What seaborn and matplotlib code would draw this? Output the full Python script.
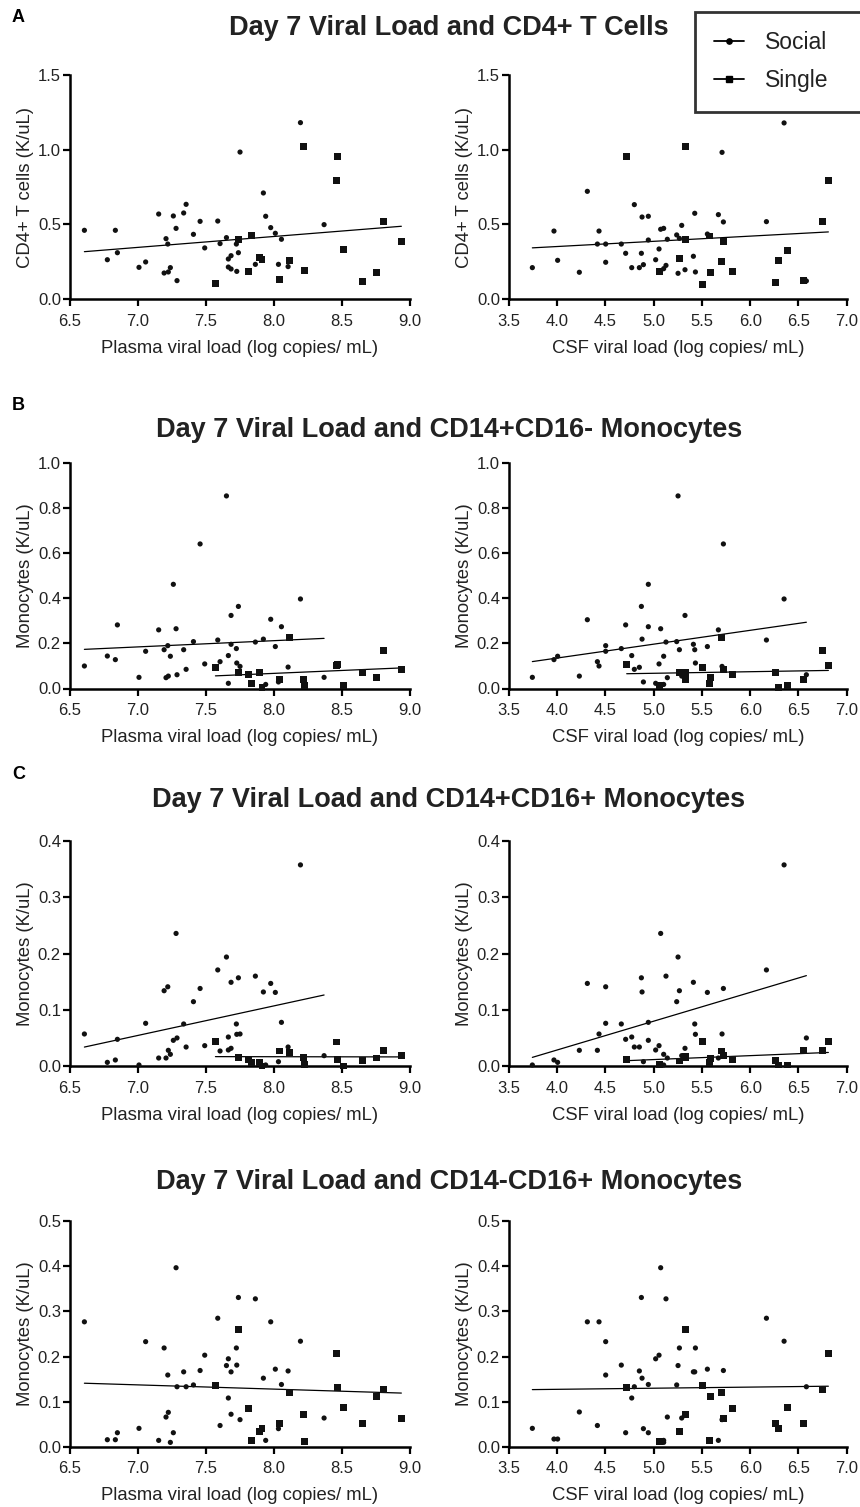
import matplotlib
matplotlib.use("Agg")
import matplotlib.pyplot as plt
from matplotlib.lines import Line2D
import numpy as np
import seaborn as sns

# x values shared by every row (same animals in each panel column)
plasma_social_x = [6.606, 6.775, 6.834, 6.849, 7.008, 7.057, 7.153, 7.193, 7.207, 7.22, 7.224,
                   7.239, 7.261, 7.281, 7.288, 7.337, 7.355, 7.409, 7.458, 7.492, 7.588, 7.605,
                   7.652, 7.666, 7.666, 7.686, 7.686, 7.725, 7.728, 7.74, 7.752, 7.865, 7.924,
                   7.941, 7.978, 8.012, 8.035, 8.057, 8.106, 8.197, 8.371]
plasma_single_x = [7.571, 7.74, 7.814, 7.836, 7.895, 7.914, 8.042, 8.116, 8.219, 8.226, 8.465,
                   8.472, 8.514, 8.656, 8.757, 8.811, 8.94]
csf_social_x = [3.742, 3.966, 4.004, 4.229, 4.312, 4.416, 4.433, 4.502, 4.502, 4.664, 4.709,
                4.772, 4.799, 4.851, 4.872, 4.879, 4.893, 4.944, 4.944, 5.02, 5.055, 5.072,
                5.103, 5.103, 5.127, 5.141, 5.238, 5.252, 5.266, 5.29, 5.324, 5.411, 5.425,
                5.432, 5.556, 5.67, 5.708, 5.722, 6.168, 6.351, 6.582]
csf_single_x = [4.72, 5.058, 5.266, 5.328, 5.331, 5.51, 5.575, 5.587, 5.701, 5.722, 5.815,
                6.261, 6.295, 6.385, 6.55, 6.748, 6.81]

# CD4+ T cells
cd4_plasma_social = [0.46, 0.263, 0.46, 0.31, 0.212, 0.248, 0.569, 0.174, 0.404, 0.368, 0.181,
                     0.21, 0.556, 0.473, 0.123, 0.576, 0.634, 0.433, 0.52, 0.342, 0.522, 0.371,
                     0.411, 0.268, 0.214, 0.29, 0.201, 0.368, 0.185, 0.31, 0.984, 0.232, 0.71,
                     0.554, 0.478, 0.44, 0.232, 0.4, 0.217, 1.181, 0.498]
cd4_plasma_single = [0.105, 0.4, 0.185, 0.424, 0.277, 0.266, 0.132, 0.259, 1.02, 0.192, 0.795,
                     0.955, 0.333, 0.118, 0.179, 0.518, 0.384]
cd4_csf_social = [0.21, 0.455, 0.259, 0.179, 0.721, 0.368, 0.455, 0.368, 0.246, 0.368, 0.306,
                  0.21, 0.632, 0.21, 0.306, 0.549, 0.23, 0.554, 0.395, 0.263, 0.335, 0.467,
                  0.473, 0.203, 0.225, 0.4, 0.429, 0.172, 0.406, 0.493, 0.196, 0.286, 0.574,
                  0.181, 0.435, 0.565, 0.982, 0.516, 0.518, 1.179, 0.121]
cd4_csf_single = [0.953, 0.185, 0.272, 1.02, 0.4, 0.098, 0.422, 0.179, 0.252, 0.386, 0.185,
                  0.112, 0.259, 0.326, 0.125, 0.518, 0.795]

# CD14+CD16- monocytes
mono_a_plasma_social = [0.0998, 0.144, 0.128, 0.282, 0.0495, 0.165, 0.26, 0.172, 0.048, 0.19,
                        0.055, 0.143, 0.462, 0.265, 0.061, 0.172, 0.085, 0.208, 0.641, 0.109,
                        0.215, 0.119, 0.854, 0.146, 0.023, 0.324, 0.196, 0.177, 0.113, 0.364,
                        0.098, 0.206, 0.219, 0.018, 0.307, 0.186, 0.029, 0.274, 0.095, 0.397,
                        0.0495]
mono_a_plasma_single = [0.094, 0.07, 0.063, 0.023, 0.072, 0.004, 0.041, 0.227, 0.041, 0.013,
                        0.1, 0.107, 0.013, 0.072, 0.0495, 0.169, 0.084]
mono_a_csf_social = [0.0495, 0.128, 0.143, 0.055, 0.305, 0.119, 0.0998, 0.19, 0.165, 0.177,
                     0.282, 0.146, 0.085, 0.094, 0.364, 0.219, 0.029, 0.462, 0.274, 0.023,
                     0.109, 0.265, 0.143, 0.018, 0.206, 0.048, 0.208, 0.854, 0.172, 0.055,
                     0.324, 0.196, 0.172, 0.113, 0.186, 0.26, 0.098, 0.641, 0.215, 0.397, 0.061]
mono_a_csf_single = [0.107, 0.013, 0.072, 0.072, 0.041, 0.094, 0.023, 0.0495, 0.227, 0.084,
                     0.063, 0.07, 0.004, 0.013, 0.041, 0.169, 0.1]

# CD14+CD16+ monocytes
mono_b_plasma_social = [0.057, 0.0065, 0.0107, 0.0475, 0.0018, 0.076, 0.0142, 0.134, 0.0142,
                        0.141, 0.0279, 0.0208, 0.0457, 0.236, 0.0499, 0.0748, 0.0338, 0.1145,
                        0.138, 0.0362, 0.171, 0.0267, 0.194, 0.0516, 0.0285, 0.149, 0.0315,
                        0.0748, 0.0564, 0.157, 0.057, 0.16, 0.1318, 0.0018, 0.147, 0.131,
                        0.0077, 0.0777, 0.0338, 0.358, 0.0184]
mono_b_plasma_single = [0.0439, 0.0154, 0.0119, 0.0065, 0.0065, 0.0, 0.0267, 0.0243, 0.0154,
                        0.003, 0.0427, 0.0119, 0.0, 0.0101, 0.0142, 0.0279, 0.019]
mono_b_csf_social = [0.0018, 0.0107, 0.0065, 0.0279, 0.147, 0.0279, 0.057, 0.076, 0.141, 0.0748,
                     0.0475, 0.0516, 0.0338, 0.0338, 0.157, 0.1318, 0.0077, 0.0457, 0.0777,
                     0.0285, 0.0362, 0.236, 0.0208, 0.0018, 0.16, 0.0142, 0.1145, 0.194, 0.134,
                     0.0184, 0.0315, 0.149, 0.0748, 0.0564, 0.131, 0.0142, 0.057, 0.138, 0.171,
                     0.358, 0.0499]
mono_b_csf_single = [0.0119, 0.003, 0.0089, 0.0154, 0.0166, 0.0439, 0.0065, 0.013, 0.0267,
                     0.019, 0.0119, 0.0101, 0.0018, 0.0018, 0.0279, 0.0279, 0.0439]

# CD14-CD16+ monocytes
mono_c_plasma_social = [0.277, 0.0155, 0.0155, 0.031, 0.0407, 0.233, 0.014, 0.219, 0.0658, 0.159,
                        0.0762, 0.0096, 0.031, 0.397, 0.133, 0.166, 0.133, 0.137, 0.169, 0.203,
                        0.285, 0.047, 0.18, 0.195, 0.108, 0.166, 0.072, 0.219, 0.181, 0.331,
                        0.06, 0.328, 0.152, 0.014, 0.277, 0.172, 0.04, 0.138, 0.168, 0.234,
                        0.0636]
mono_c_plasma_single = [0.135, 0.259, 0.085, 0.014, 0.034, 0.04, 0.052, 0.1206, 0.072, 0.0118,
                        0.207, 0.132, 0.087, 0.052, 0.112, 0.126, 0.063]
mono_c_csf_social = [0.0407, 0.017, 0.017, 0.077, 0.277, 0.047, 0.277, 0.233, 0.159, 0.181,
                     0.031, 0.108, 0.133, 0.168, 0.331, 0.152, 0.04, 0.138, 0.031, 0.195, 0.203,
                     0.397, 0.014, 0.0096, 0.328, 0.0658, 0.137, 0.18, 0.219, 0.0636, 0.072,
                     0.166, 0.166, 0.219, 0.172, 0.014, 0.06, 0.169, 0.285, 0.234, 0.133]
mono_c_csf_single = [0.132, 0.0118, 0.034, 0.259, 0.072, 0.135, 0.014, 0.112, 0.1206, 0.063,
                     0.085, 0.052, 0.04, 0.087, 0.052, 0.126, 0.207]

row_titles = ["Day 7 Viral Load and CD4+ T Cells",
              "Day 7 Viral Load and CD14+CD16- Monocytes",
              "Day 7 Viral Load and CD14+CD16+ Monocytes",
              "Day 7 Viral Load and CD14-CD16+ Monocytes"]
row_letters = ["A", "B", "C", ""]
row_ylabels = ["CD4+ T cells (K/uL)", "Monocytes (K/uL)", "Monocytes (K/uL)", "Monocytes (K/uL)"]
row_ymax = [1.5, 1.0, 0.4, 0.5]
row_ystep = [0.5, 0.2, 0.1, 0.1]
row_pooled = [True, False, False, True]
row_data = [
    (cd4_plasma_social, cd4_plasma_single, cd4_csf_social, cd4_csf_single),
    (mono_a_plasma_social, mono_a_plasma_single, mono_a_csf_social, mono_a_csf_single),
    (mono_b_plasma_social, mono_b_plasma_single, mono_b_csf_social, mono_b_csf_single),
    (mono_c_plasma_social, mono_c_plasma_single, mono_c_csf_social, mono_c_csf_single),
]

sns.set_style("ticks")
plt.rcParams["font.family"] = ["Liberation Sans", "DejaVu Sans"]
TXT = "#222222"

W, H = 860, 1507
fig = plt.figure(figsize=(W / 100, H / 100), dpi=100)

# pixel boxes (top, bottom) per row and (left, right) per column
row_px = [(75, 299), (463, 688.5), (841.3, 1066), (1221.3, 1446.7)]
col_px = [(70, 409.5), (509, 846.7)]
title_y = [28, 430, 800, 1182]
letter_y = [18, 405, 775, 0]


def draw_panel(ax, sx, sy, gx, gy, pooled):
    sns.scatterplot(x=sx, y=sy, marker="o", s=14, color="#111111", edgecolor="none",
                    ax=ax, clip_on=False, zorder=3)
    sns.scatterplot(x=gx, y=gy, marker="s", s=25, color="#111111", edgecolor="none",
                    ax=ax, clip_on=False, zorder=3)
    lk = dict(color="black", lw=0.9)
    if pooled:
        sns.regplot(x=np.r_[sx, gx], y=np.r_[sy, gy], scatter=False, ci=None,
                    truncate=True, line_kws=lk, ax=ax)
    else:
        sns.regplot(x=np.array(sx), y=np.array(sy), scatter=False, ci=None,
                    truncate=True, line_kws=lk, ax=ax)
        sns.regplot(x=np.array(gx), y=np.array(gy), scatter=False, ci=None,
                    truncate=True, line_kws=lk, ax=ax)


for r in range(4):
    top, bot = row_px[r]
    p_soc, p_sin, c_soc, c_sin = row_data[r]
    for c in range(2):
        left, right = col_px[c]
        ax = fig.add_axes([left / W, 1 - bot / H, (right - left) / W, (bot - top) / H])
        if c == 0:
            draw_panel(ax, plasma_social_x, p_soc, plasma_single_x, p_sin, row_pooled[r])
            ax.set_xlim(6.5, 9.0)
            ax.set_xticks(np.arange(6.5, 9.01, 0.5))
            xlab = "Plasma viral load (log copies/ mL)"
        else:
            draw_panel(ax, csf_social_x, c_soc, csf_single_x, c_sin, row_pooled[r])
            ax.set_xlim(3.5, 7.0)
            ax.set_xticks(np.arange(3.5, 7.01, 0.5))
            xlab = "CSF viral load (log copies/ mL)"
        ax.set_xlabel(xlab, fontsize=13.3, color=TXT, labelpad=8)
        ax.set_ylim(0, row_ymax[r])
        ax.set_yticks(np.arange(0, row_ymax[r] + 1e-9, row_ystep[r]))
        ax.xaxis.set_major_formatter(matplotlib.ticker.FormatStrFormatter("%.1f"))
        ax.yaxis.set_major_formatter(matplotlib.ticker.FormatStrFormatter("%.1f"))
        ax.set_ylabel(row_ylabels[r], fontsize=13.3, color=TXT, labelpad=3)
        sns.despine(ax=ax)
        for s in ["left", "bottom"]:
            ax.spines[s].set_linewidth(1.8)
            ax.spines[s].set_color("black")
        ax.tick_params(axis="both", length=5, width=1.6, color="black",
                       labelsize=12, labelcolor=TXT)
        ax.tick_params(axis="x", pad=5.5)
        ax.tick_params(axis="y", pad=1.5)

    fig.text(449 / W, 1 - title_y[r] / H, row_titles[r], fontsize=19.5, fontweight="bold",
             color=TXT, ha="center", va="center")
    if row_letters[r]:
        fig.text(12 / W, 1 - letter_y[r] / H, row_letters[r], fontsize=13, fontweight="bold",
                 color="black", ha="left", va="center")

handles = [
    Line2D([], [], color="black", lw=1.3, marker="o", markersize=3.8),
    Line2D([], [], color="black", lw=1.3, marker="s", markersize=5),
]
leg = fig.legend(handles, ["Social", "Single"], loc="upper left",
                 bbox_to_anchor=(695 / W, 1 - 108 / H, 200 / W, 96 / H), mode="expand",
                 frameon=True, fancybox=False, fontsize=16.5, borderpad=0.85, labelspacing=0.65,
                 handlelength=1.3, handletextpad=0.9, borderaxespad=0)
leg.get_frame().set_edgecolor("black")
leg.get_frame().set_linewidth(2)
for t in leg.get_texts():
    t.set_color(TXT)

fig.savefig("out.png", dpi=100)
